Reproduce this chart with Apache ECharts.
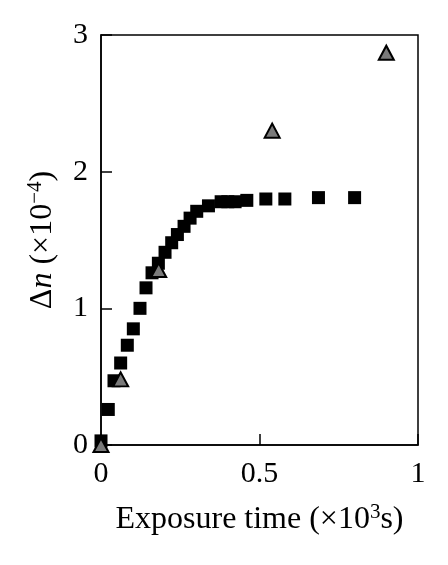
<!DOCTYPE html>
<html>
<head>
<meta charset="utf-8">
<script src="https://cdn.jsdelivr.net/npm/echarts@6/dist/echarts.min.js"></script>
<style>html,body{margin:0;padding:0;background:#fff}#c{width:448px;height:565px}</style>
</head>
<body>
<div id="c"></div>
<script>
// Squares (black)
const squareX = [0.0, 0.023, 0.041, 0.062, 0.083, 0.102, 0.123, 0.142, 0.161, 0.181, 0.202, 0.223, 0.241, 0.262, 0.281, 0.302, 0.339, 0.379, 0.40, 0.423, 0.46, 0.52, 0.58, 0.686, 0.80];
const squareY = [0.03, 0.26, 0.47, 0.60, 0.73, 0.85, 1.00, 1.15, 1.26, 1.33, 1.41, 1.48, 1.54, 1.60, 1.66, 1.71, 1.75, 1.78, 1.78, 1.78, 1.79, 1.80, 1.80, 1.81, 1.81];
// Triangles (gray)
const triX = [0.0, 0.062, 0.182, 0.54, 0.90];
const triY = [0.0, 0.48, 1.28, 2.30, 2.87];
const xTicks = [0, 0.5, 1];
const yTicks = [0, 1, 2, 3];

const FONT = "'Liberation Serif', 'DejaVu Serif', serif";
const chart = echarts.init(document.getElementById('c'));
const zip = (a, b) => a.map((v, i) => [v, b[i]]);
const fmt = v => String(v);

chart.setOption({
  animation: false,
  backgroundColor: '#fff',
  grid: { left: 101, right: 30, top: 35, bottom: 120, show: true, borderColor: '#000', borderWidth: 1.5, backgroundColor: 'transparent' },
  xAxis: {
    type: 'value', min: 0, max: 1, interval: 0.5,
    axisLine: { show: true, onZero: false, lineStyle: { color: '#000', width: 1.5 } },
    axisTick: { show: true, inside: true, length: 11, lineStyle: { color: '#000', width: 1.5 } },
    splitLine: { show: false },
    axisLabel: { color: '#000', fontFamily: FONT, fontSize: 30, margin: 14, formatter: fmt },
    name: 'Exposure time (×10{sup|3}s)',
    nameLocation: 'middle', nameGap: 57,
    nameTextStyle: { color: '#000', fontFamily: FONT, fontSize: 32,
      rich: { sup: { fontFamily: FONT, fontSize: 21, color: '#000', padding: [0, 0, 14, 0] } } }
  },
  yAxis: {
    type: 'value', min: 0, max: 3, interval: 1,
    axisLine: { show: true, onZero: false, lineStyle: { color: '#000', width: 1.5 } },
    axisTick: { show: true, inside: true, length: 11, lineStyle: { color: '#000', width: 1.5 } },
    splitLine: { show: false },
    axisLabel: { color: '#000', fontFamily: FONT, fontSize: 30, margin: 13, formatter: fmt },
    name: 'Δ{it|n} (×10{sup|−4})',
    nameLocation: 'middle', nameGap: 41, nameRotate: 90,
    nameTextStyle: { color: '#000', fontFamily: FONT, fontSize: 32,
      rich: {
        it: { fontFamily: FONT, fontSize: 32, fontStyle: 'italic', color: '#000' },
        sup: { fontFamily: FONT, fontSize: 21, color: '#000', padding: [0, 0, 14, 0] }
      } }
  },
  series: [
    {
      type: 'scatter', data: zip(squareX, squareY), symbol: 'rect', symbolSize: 13, clip: false,
      itemStyle: { color: '#000', opacity: 1 }, z: 2
    },
    {
      type: 'scatter', data: zip(triX, triY), symbol: 'triangle', symbolSize: [15, 14], clip: false,
      itemStyle: { color: '#7a7a7a', borderColor: '#000', borderWidth: 2, opacity: 1 }, z: 3
    }
  ]
});
</script>
</body>
</html>
